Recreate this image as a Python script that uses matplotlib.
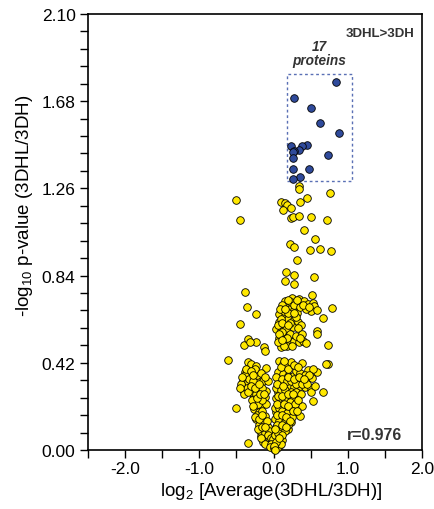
import numpy as np
import matplotlib.pyplot as plt
from matplotlib.patches import Rectangle
from matplotlib.ticker import MultipleLocator

plt.rcParams['font.family'] = ['Liberation Sans', 'DejaVu Sans']
plt.rcParams['mathtext.fontset'] = 'custom'
plt.rcParams['mathtext.rm'] = 'Liberation Sans'

# 17 proteins up in 3DHL (blue)
blue_x = [0.84, 0.27, 0.50, 0.63, 0.88, 0.24, 0.455, 0.38, 0.34, 0.28, 0.26, 0.73, 0.26, 0.26, 0.48, 0.35, 0.26]
blue_y = [1.771, 1.694, 1.646, 1.574, 1.528, 1.464, 1.469, 1.464, 1.446, 1.442, 1.434, 1.421, 1.406, 1.352, 1.352, 1.313, 1.304]

# all other proteins (yellow)
sparse_x = [0.34, 0.34, 0.76, -0.50, 0.10, 0.15, 0.18, 0.23, 0.13, 0.36, 0.45, -0.45, 0.23, 0.26, 0.34,
            0.51, 0.72, 0.41, 0.56, 0.22, 0.27, 0.49, 0.62, 0.77, 0.32, 0.17, 0.28, 0.16, 0.27, 0.55,
            -0.39, 0.52, -0.36, -0.24, -0.45, 0.79, 0.66, -0.40, -0.34, -0.24, -0.32, -0.13, -0.12, -0.62,
            0.74, 0.73, 0.66, 0.53, -0.50, -0.35, 0.58, 0.58]
sparse_y = [1.270, 1.257, 1.238, 1.205, 1.196, 1.188, 1.180, 1.167, 1.156, 1.193, 1.213, 1.108, 1.116, 1.124,
            1.128, 1.120, 1.106, 1.061, 1.016, 0.992, 0.978, 0.963, 0.968, 0.960, 0.917, 0.859, 0.841, 0.812,
            0.801, 0.835, 0.762, 0.748, 0.687, 0.656, 0.607, 0.684, 0.634, 0.507, 0.535, 0.518, 0.518, 0.498,
            0.475, 0.435, 0.506, 0.414, 0.278, 0.236, 0.202, 0.032, 0.575, 0.559]

mid_x = [0.25, 0.34, 0.41, 0.46, 0.53, 0.55, 0.50, 0.58, 0.13, 0.17, 0.22, 0.28, 0.31, 0.08, 0.15, 0.19,
         0.26, 0.33, 0.37, 0.08, 0.15, 0.04, 0.10, 0.17, 0.26, 0.33, 0.13, 0.16, 0.22, 0.28, 0.34, 0.40,
         0.44, 0.10, 0.18, 0.08, 0.14, 0.24, 0.16, 0.12, 0.20, 0.27, 0.36, 0.44, 0.10, 0.22, 0.30, 0.06,
         0.12, 0.22, 0.30, 0.38, 0.06, 0.25, 0.14, 0.09, 0.16, 0.31, 0.40, 0.48, 0.11, 0.19, 0.27, 0.08,
         0.18, 0.35, 0.20, 0.12]
mid_y = [0.730, 0.727, 0.719, 0.703, 0.708, 0.695, 0.671, 0.674, 0.687, 0.695, 0.679, 0.676, 0.660, 0.655,
         0.647, 0.631, 0.623, 0.615, 0.604, 0.615, 0.599, 0.583, 0.575, 0.583, 0.591, 0.588, 0.551, 0.535,
         0.526, 0.523, 0.518, 0.523, 0.515, 0.494, 0.502, 0.538, 0.671, 0.711, 0.719, 0.700, 0.660, 0.700,
         0.690, 0.680, 0.630, 0.610, 0.640, 0.600, 0.570, 0.560, 0.550, 0.560, 0.520, 0.500, 0.500, 0.680,
         0.680, 0.720, 0.700, 0.690, 0.610, 0.600, 0.660, 0.560, 0.540, 0.540, 0.720, 0.530]

left_x = [-0.35, -0.30, -0.23, -0.10, -0.39, -0.32, -0.26, -0.19, -0.41, -0.35, -0.28, -0.21, -0.14, -0.08,
          -0.41, -0.32, -0.23, -0.17, -0.10, -0.26, -0.19, -0.12, -0.23, -0.17, -0.10, -0.26, -0.19, -0.12,
          -0.23, -0.17, -0.10, -0.14, -0.08, -0.17, -0.10, -0.03, -0.38, -0.36, -0.30, -0.33, -0.27, -0.22,
          -0.20, -0.15, -0.29, -0.24, -0.21, -0.15, -0.22, -0.16, -0.20, -0.13, -0.18, -0.12, -0.08, -0.14,
          -0.06, -0.09, -0.05, -0.02, -0.44, -0.40, -0.25, -0.17, -0.12, -0.45, -0.42, -0.37, -0.31, -0.28,
          -0.35, -0.30, -0.25, -0.19, -0.27, -0.22, -0.18, -0.13, -0.25, -0.20, -0.15, -0.21, -0.16, -0.11,
          -0.17, -0.11, -0.07, -0.04, -0.01]
left_y = [0.425, 0.414, 0.406, 0.393, 0.374, 0.366, 0.350, 0.342, 0.334, 0.326, 0.318, 0.326, 0.334, 0.334,
          0.291, 0.302, 0.302, 0.278, 0.286, 0.262, 0.246, 0.254, 0.230, 0.213, 0.222, 0.197, 0.181, 0.165,
          0.149, 0.133, 0.117, 0.101, 0.109, 0.069, 0.061, 0.069, 0.360, 0.300, 0.280, 0.340, 0.330, 0.360,
          0.290, 0.300, 0.240, 0.270, 0.220, 0.240, 0.170, 0.190, 0.120, 0.140, 0.090, 0.080, 0.050, 0.040,
          0.090, 0.140, 0.030, 0.020, 0.320, 0.270, 0.390, 0.370, 0.350, 0.300, 0.350, 0.390, 0.380, 0.360,
          0.280, 0.310, 0.300, 0.320, 0.210, 0.250, 0.270, 0.270, 0.160, 0.150, 0.170, 0.100, 0.110, 0.110,
          0.060, 0.030, 0.070, 0.060, 0.040]

right_x = [0.08, 0.13, 0.17, 0.24, 0.39, 0.46, 0.58, 0.71, 0.06, 0.13, 0.19, 0.26, 0.33, 0.40, 0.46, 0.52,
           0.08, 0.15, 0.22, 0.28, 0.35, 0.42, 0.50, 0.06, 0.13, 0.19, 0.26, 0.33, 0.39, 0.08, 0.15, 0.22,
           0.28, 0.35, 0.04, 0.10, 0.17, 0.24, 0.06, 0.13, 0.19, 0.04, 0.10, -0.01, 0.06, 0.01, -0.03, 0.08,
           0.00, -0.05, 0.10, 0.20, 0.30, 0.36, 0.04, 0.11, 0.18, 0.24, 0.30, 0.38, 0.45, 0.03, 0.10, 0.16,
           0.23, 0.30, 0.37, 0.03, 0.10, 0.16, 0.22, 0.29, 0.02, 0.07, 0.12, 0.18, 0.25, 0.02, 0.08, 0.14,
           0.20, 0.03, 0.09, 0.15, 0.02, 0.07, 0.12, 0.03, 0.05, 0.10, 0.42, 0.53, 0.50, 0.56, 0.14, 0.28,
           0.33, 0.48, 0.05, 0.13, 0.20, 0.27, 0.34, 0.41, 0.06, 0.12, 0.19, 0.26, 0.33, 0.05, 0.14, 0.20,
           0.26, 0.32, 0.05, 0.11, 0.17, 0.22, 0.05, 0.11, 0.17, 0.06, 0.12, 0.01, 0.04, 0.08, 0.02, 0.00,
           0.02]
right_y = [0.430, 0.414, 0.406, 0.422, 0.417, 0.387, 0.377, 0.414, 0.374, 0.366, 0.358, 0.358, 0.342, 0.334,
           0.350, 0.345, 0.326, 0.318, 0.310, 0.302, 0.310, 0.302, 0.300, 0.278, 0.270, 0.262, 0.254, 0.265,
           0.210, 0.230, 0.213, 0.197, 0.181, 0.162, 0.181, 0.165, 0.149, 0.133, 0.133, 0.117, 0.101, 0.085,
           0.069, 0.053, 0.037, 0.021, 0.029, 0.021, 0.005, 0.013, 0.400, 0.390, 0.380, 0.370, 0.350, 0.340,
           0.330, 0.330, 0.320, 0.320, 0.320, 0.300, 0.290, 0.290, 0.280, 0.280, 0.270, 0.250, 0.240, 0.240,
           0.230, 0.220, 0.200, 0.200, 0.190, 0.180, 0.160, 0.150, 0.140, 0.130, 0.120, 0.110, 0.100, 0.090,
           0.070, 0.050, 0.050, 0.030, 0.010, 0.030, 0.360, 0.390, 0.280, 0.310, 0.430, 0.410, 0.400, 0.360,
           0.320, 0.310, 0.350, 0.340, 0.350, 0.340, 0.260, 0.260, 0.270, 0.270, 0.240, 0.220, 0.220, 0.210,
           0.190, 0.190, 0.170, 0.170, 0.160, 0.140, 0.120, 0.120, 0.110, 0.080, 0.070, 0.010, 0.040, 0.060,
           0.100, 0.020, 0.000]

yellow_x = sparse_x + mid_x + left_x + right_x
yellow_y = sparse_y + mid_y + left_y + right_y

fig = plt.figure(figsize=(4.35, 5.10), dpi=100)
ax = fig.add_axes([0.2023, 0.1157, 0.7677, 0.855])

ax.scatter(yellow_x, yellow_y, s=30, c='#ffe800', edgecolors='black', linewidths=0.6, zorder=3, clip_on=False)
ax.scatter(blue_x, blue_y, s=30, c='#2f4a9b', edgecolors='black', linewidths=0.6, zorder=4)

ax.add_patch(Rectangle((0.18, 1.296), 0.88, 0.514, fill=False, edgecolor='#5a70b5',
                       linestyle=(0, (2, 2)), linewidth=1.0, zorder=2))

ax.set_xlim(-2.5, 2.0)
ax.set_ylim(0, 2.1)
ax.xaxis.set_major_locator(MultipleLocator(1.0))
ax.xaxis.set_minor_locator(MultipleLocator(0.5))
ax.yaxis.set_major_locator(MultipleLocator(0.42))
ax.yaxis.set_minor_locator(MultipleLocator(0.084))
ax.xaxis.set_major_formatter(plt.FormatStrFormatter('%.1f'))
ax.yaxis.set_major_formatter(plt.FormatStrFormatter('%.2f'))
ax.tick_params(which='both', direction='out', length=6, width=1.0, labelsize=12.5)
ax.tick_params(axis='x', which='major', pad=2)
ax.tick_params(axis='y', which='major', pad=3)
for sp in ax.spines.values():
    sp.set_linewidth(1.2)

ax.set_ylabel('-log$_{10}$ p-value (3DHL/3DH)', fontsize=13.5)
ax.set_xlabel('log$_2$ [Average(3DHL/3DH)]', fontsize=13.5)
ax.yaxis.set_label_coords(-0.16, 0.562)
ax.xaxis.set_label_coords(0.548, -0.068)

ax.text(0.976, 0.970, '3DHL>3DH', transform=ax.transAxes, ha='right', va='top',
        fontsize=9.5, fontweight='bold', color='#333333')
ax.text(0.62, 1.912, '17\nproteins', ha='center', va='center', fontsize=9.8,
        fontweight='bold', fontstyle='italic', color='#333333', linespacing=1.05)
ax.text(0.94, 0.018, 'r=0.976', transform=ax.transAxes, ha='right', va='bottom',
        fontsize=11.4, fontweight='bold', color='#333333')

fig.savefig('out.png', dpi=100)
